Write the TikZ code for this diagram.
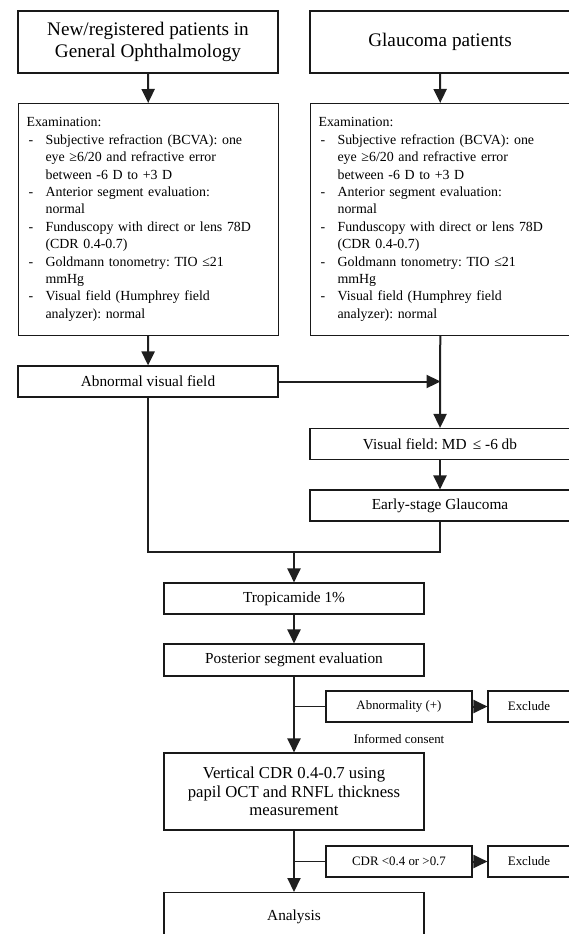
\documentclass[tikz,border=0pt]{standalone}
\usepackage{fontspec}
\setmainfont{Liberation Serif}
\usetikzlibrary{arrows.meta}
\frenchspacing
\newcommand{\ftitle}{\fontsize{19.2}{21.5}\selectfont}
\newcommand{\fexam}{\fontsize{13.9}{17.4}\selectfont}
\newcommand{\fmid}{\fontsize{15.3}{17}\selectfont}
\newcommand{\fbig}{\fontsize{16.7}{18.4}\selectfont}
\newcommand{\fsmall}{\fontsize{12.9}{14}\selectfont}
\newcommand{\itm}[1]{\makebox[19pt][l]{\hspace{2pt}-}#1}
\newcommand{\cnt}[1]{\hspace*{19pt}#1}
\begin{document}
\begin{tikzpicture}[x=1pt,y=-1pt,
  box/.style={draw=black!90, line width=1.1pt, rectangle, inner sep=0pt, align=center},
  conn/.style={line width=2pt, draw=black!88, line join=miter},
  thin/.style={line width=1.5pt, draw=black!88},
  arr/.style={conn, -{Triangle[length=14pt,width=13pt]}},
]
\useasboundingbox (0,0) rectangle (568,934);

% top boxes
\node[box, minimum width=260pt, minimum height=62pt, font=\ftitle] (t1) at (148,42) {New/registered patients in\\General Ophthalmology};
\node[box, minimum width=260pt, minimum height=62pt, font=\ftitle] (t2) at (440,42) {Glaucoma patients};

% examination boxes
\node[box, anchor=north west, minimum width=260pt, minimum height=232pt, text width=244pt, align=left, inner xsep=8pt, font=\fexam] (e1) at (18,103) {Examination:\\
\itm{Subjective refraction (BCVA): one}\\
\cnt{eye ≥6/20 and refractive error}\\
\cnt{between -6 D to +3 D}\\
\itm{Anterior segment evaluation:}\\
\cnt{normal}\\
\itm{Funduscopy with direct or lens 78D}\\
\cnt{(CDR 0.4-0.7)}\\
\itm{Goldmann tonometry: TIO ≤21}\\
\cnt{mmHg}\\
\itm{Visual field (Humphrey field}\\
\cnt{analyzer): normal}};
\node[box, anchor=north west, minimum width=260pt, minimum height=232pt, text width=244pt, align=left, inner xsep=8pt, font=\fexam] (e2) at (310,103) {Examination:\\
\itm{Subjective refraction (BCVA): one}\\
\cnt{eye ≥6/20 and refractive error}\\
\cnt{between -6 D to +3 D}\\
\itm{Anterior segment evaluation:}\\
\cnt{normal}\\
\itm{Funduscopy with direct or lens 78D}\\
\cnt{(CDR 0.4-0.7)}\\
\itm{Goldmann tonometry: TIO ≤21}\\
\cnt{mmHg}\\
\itm{Visual field (Humphrey field}\\
\cnt{analyzer): normal}};

% middle boxes
\node[box, minimum width=260pt, minimum height=31pt, font=\fmid] (ab) at (148,381.5) {Abnormal visual field};
\node[box, minimum width=260pt, minimum height=31pt, font=\fmid] (vf) at (440,444) {Visual field: MD \,≤ -6 db};
\node[box, minimum width=260pt, minimum height=31pt, font=\fmid] (es) at (440,505.5) {Early-stage Glaucoma};
\node[box, minimum width=260pt, minimum height=31pt, font=\fmid] (tr) at (294,598.5) {Tropicamide 1\%};
\node[box, minimum width=260pt, minimum height=32pt, font=\fmid] (ps) at (294,660) {Posterior segment evaluation};

% side boxes
\node[box, minimum width=146pt, minimum height=31pt, font=\fsmall] (ab2) at (399,706.5) {Abnormality (+)};
\node[box, minimum width=82pt, minimum height=31pt, font=\fsmall] (ex1) at (529,706.5) {Exclude};
\node[font=\fsmall, inner sep=0pt] (ic) at (399,739) {Informed consent};

\node[box, minimum width=260pt, minimum height=77pt, font=\fbig] (cdr) at (294,791.5) {Vertical CDR 0.4-0.7 using\\papil OCT and RNFL thickness\\measurement};
\node[box, minimum width=146pt, minimum height=31pt, font=\fsmall] (cd2) at (399,861.5) {CDR <0.4 or >0.7};
\node[box, minimum width=82pt, minimum height=31pt, font=\fsmall] (ex2) at (529,861.5) {Exclude};

\node[box, anchor=north, minimum width=260pt, text height=28pt, text depth=50pt, font=\fmid] (an) at (294,892) {Analysis};

% connectors
\draw[arr] (t1) -- (e1);
\draw[arr] (t2) -- (e2);
\draw[arr] (e1) -- (ab);
\draw[arr] (e2) -- (vf);
\coordinate (j1) at (e2.south |- ab.east);
\draw[arr] (ab.east) -- (j1);
\draw[arr] (vf) -- (es);
\coordinate (m) at (294,552);
\draw[conn] (ab.south) |- (es.south |- m) -- (es.south);
\draw[arr] (m) -- (tr);
\draw[arr] (tr) -- (ps);
\draw[arr] (ps) -- (cdr);
\coordinate (b1) at (ps.south |- ab2.west);
\draw[thin] (b1) -- (ab2.west);
\draw[arr] (ab2) -- (ex1);
\draw[arr] (cdr.south) -- (an.north);
\coordinate (b2) at (cdr.south |- cd2.west);
\draw[thin] (b2) -- (cd2.west);
\draw[arr] (cd2) -- (ex2);
\end{tikzpicture}
\end{document}
